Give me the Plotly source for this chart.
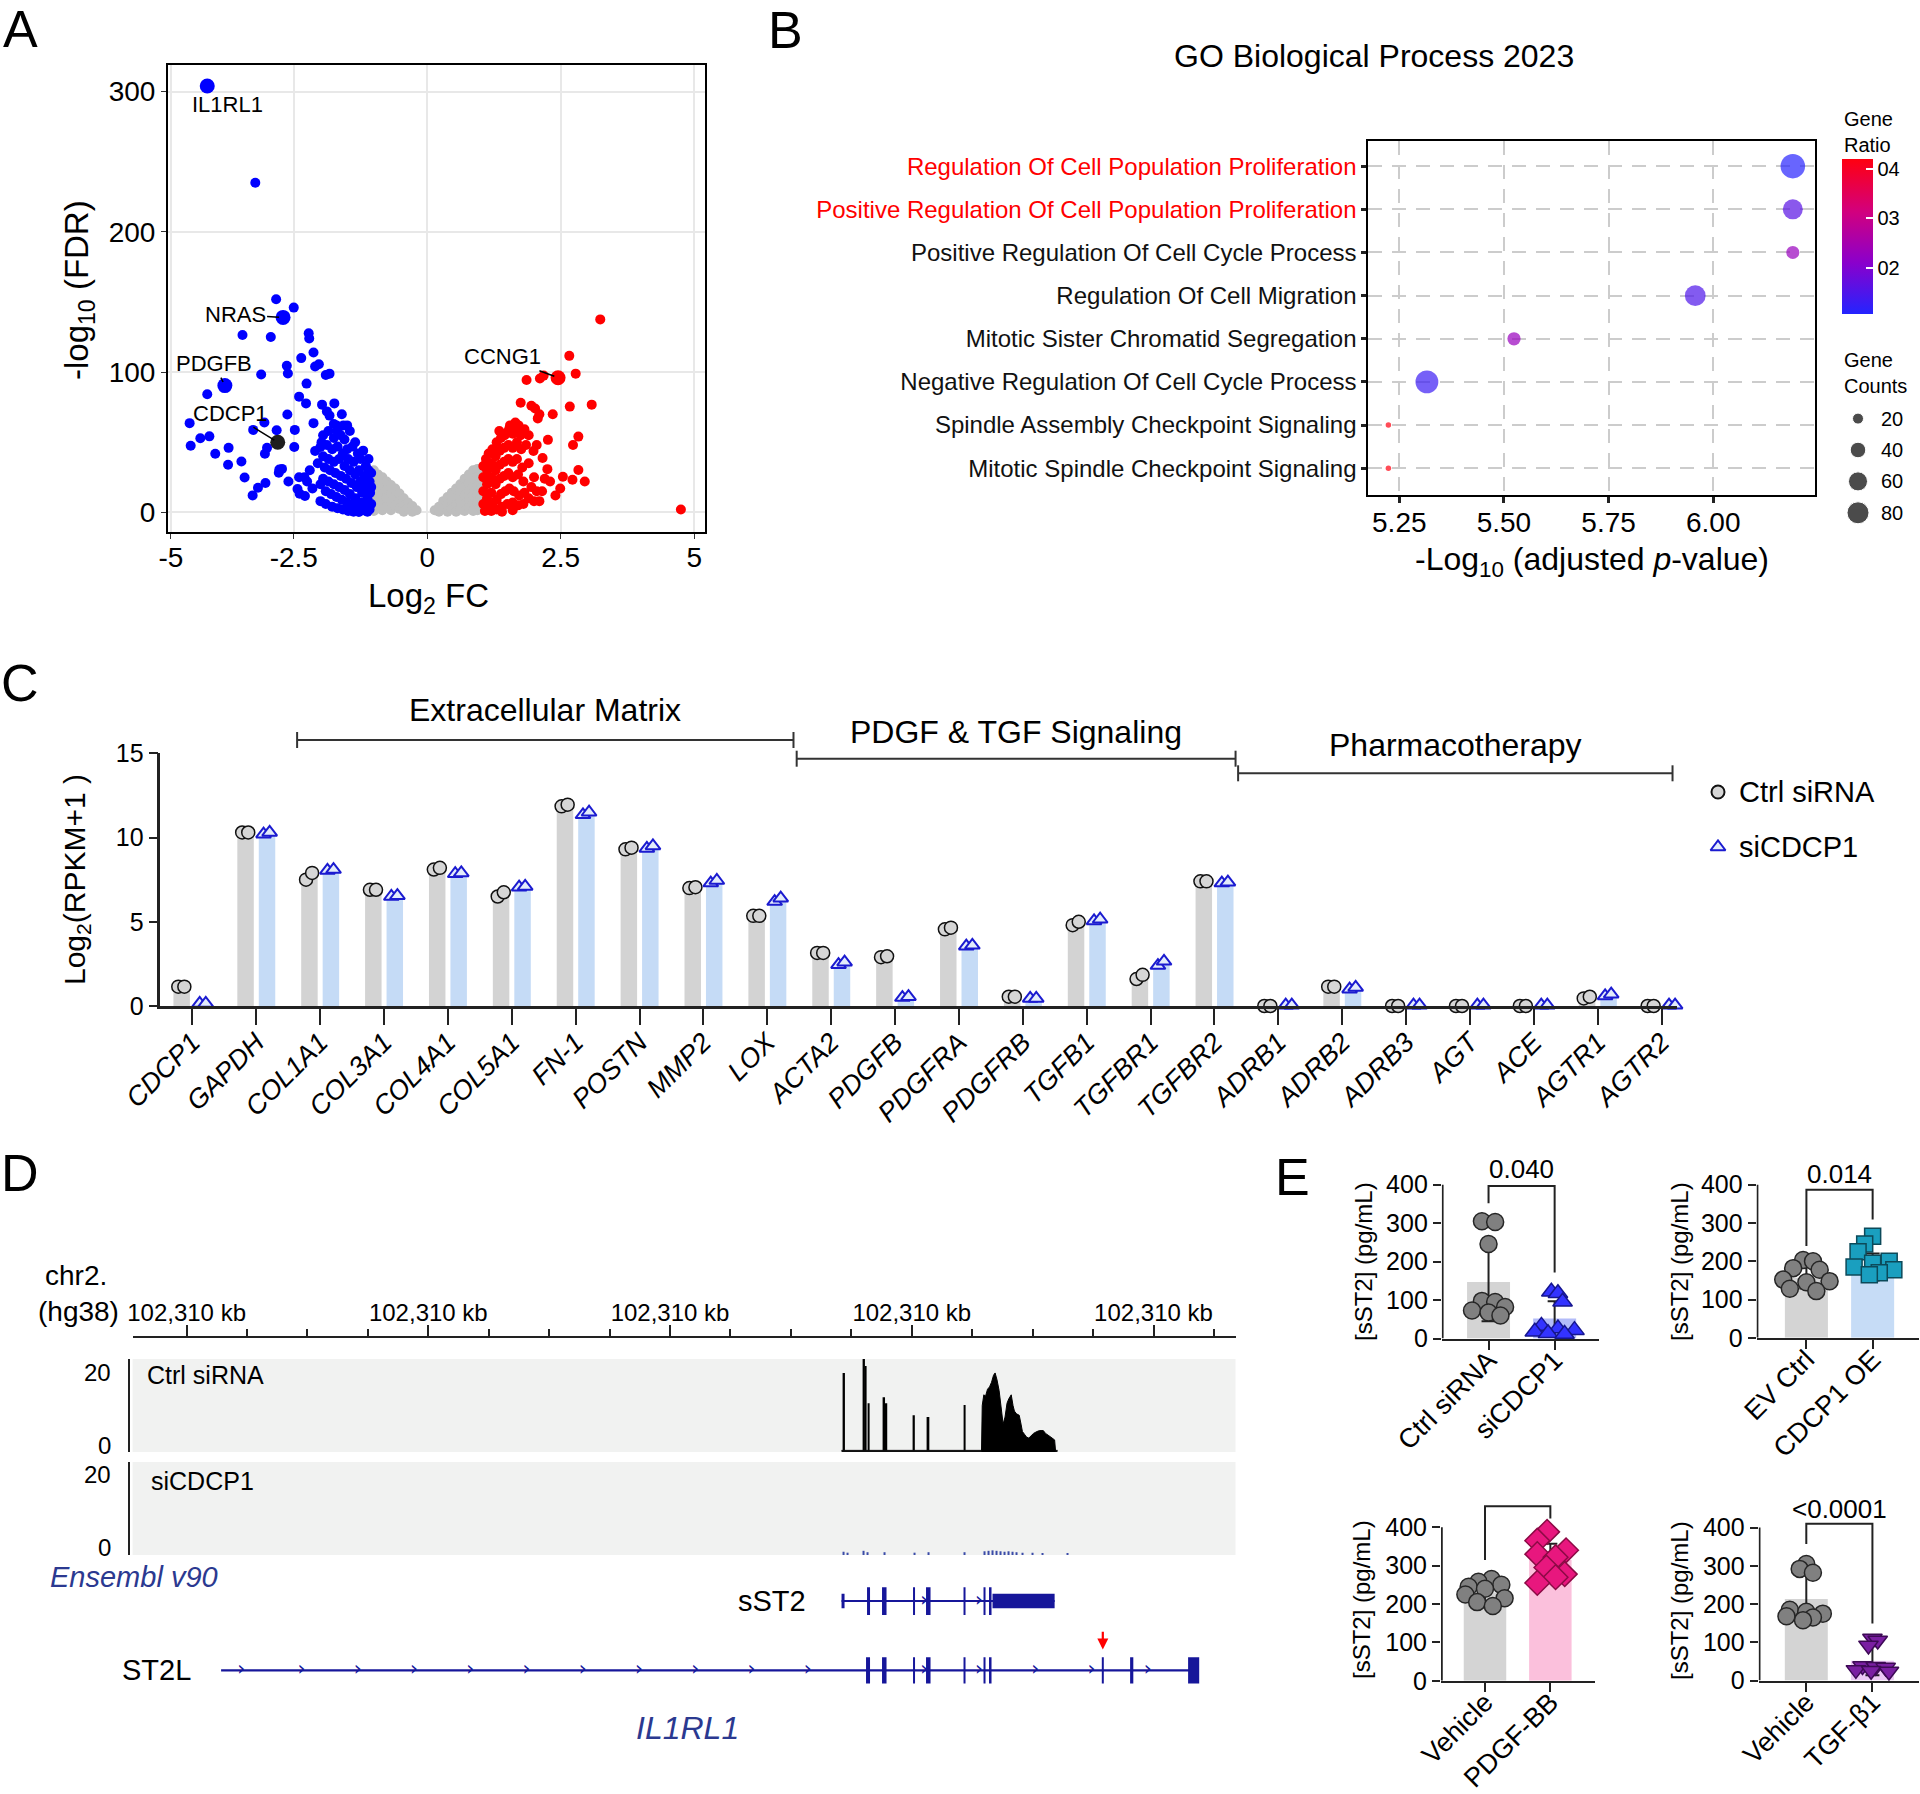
import numpy as np
import plotly.graph_objects as go

W, H = 1920, 1794
FONT = "Liberation Sans, Arial, Helvetica, sans-serif"

# ================= DATA =================
# ---- Panel A: volcano (log2 FC, -log10 FDR) ----
vol_gray = [
    (-1.00, 30), (-1.00, 24), (-1.00, 18), (-1.00, 12), (-1.00, 6), (-1.00, 1),
    (-0.92, 27), (-0.92, 21), (-0.92, 15), (-0.92, 9), (-0.92, 3),
    (-0.84, 25), (-0.84, 19), (-0.84, 13), (-0.84, 7), (-0.84, 1.5),
    (-0.76, 22), (-0.76, 16), (-0.76, 10), (-0.76, 4),
    (-0.68, 19.5), (-0.68, 13.5), (-0.68, 7.5), (-0.68, 1.5),
    (-0.60, 17), (-0.60, 11), (-0.60, 5),
    (-0.52, 13.5), (-0.52, 8), (-0.52, 2.5),
    (-0.44, 10), (-0.44, 5), (-0.44, 0.5),
    (-0.36, 7), (-0.36, 2.5), (-0.28, 4.5), (-0.28, 0.5), (-0.20, 1.5),
    (0.14, 1.5), (0.22, 4), (0.22, 0.5), (0.30, 8), (0.30, 2.5),
    (0.38, 11), (0.38, 5.5), (0.38, 0.5),
    (0.46, 14), (0.46, 8), (0.46, 2.5),
    (0.54, 17), (0.54, 11), (0.54, 5), (0.54, 0.5),
    (0.62, 20), (0.62, 14), (0.62, 8), (0.62, 2),
    (0.70, 24), (0.70, 18), (0.70, 12), (0.70, 6), (0.70, 1),
    (0.78, 27), (0.78, 21), (0.78, 15), (0.78, 9), (0.78, 3),
    (0.86, 30), (0.86, 24), (0.86, 18), (0.86, 12), (0.86, 6), (0.86, 1),
    (0.94, 31), (0.94, 25), (0.94, 19), (0.94, 13), (0.94, 7), (0.94, 1.5),
    (1.00, 31), (1.00, 24), (1.00, 17), (1.00, 10), (1.00, 3),
]
vol_blue = [
    (-3.22, 235), (-2.83, 152), (-2.50, 146), (-3.46, 126.5), (-2.93, 125),
    (-2.22, 127.7), (-2.21, 124), (-2.13, 114), (-2.36, 110), (-2.63, 104.5),
    (-2.03, 105.6), (-2.10, 104), (-2.61, 99), (-3.11, 98.3), (-1.83, 98.9),
    (-1.90, 98), (-2.26, 91.8), (-4.12, 84.2), (-2.40, 82.5), (-2.27, 77.7),
    (-1.97, 76.8), (-1.74, 77.7), (-1.88, 72), (-2.62, 69.8), (-1.83, 69),
    (-3.05, 64.1), (-4.45, 63.6), (-2.13, 63.6), (-1.75, 63), (-1.57, 62),
    (-1.68, 58), (-3.26, 58.8), (-2.82, 58.5), (-2.48, 58.8), (-4.25, 52.8),
    (-4.08, 54.2), (-4.43, 47.5), (-3.72, 46), (-3.00, 46), (-3.04, 41.8),
    (-2.49, 46.6), (-3.97, 41.8), (-3.73, 33.9), (-3.48, 36.2), (-3.42, 24.9),
    (-3.03, 20.9), (-3.17, 17.5), (-3.27, 12.1), (-2.77, 30.5), (-2.72, 31),
    (-2.78, 28.2), (-2.60, 22), (-2.40, 25), (-2.43, 16.7), (-2.39, 13.3),
    (-2.29, 11.6), (-2.10, 43.8), (-2.00, 46.6), (-2.05, 35), (-2.20, 30),
    (-2.25, 22), (-2.15, 17), (-2.30, 25), (-2.00, 20), (-1.60, 70), (-1.50, 62),
    (-1.95, 55), (-1.85, 58), (-1.75, 53), (-1.62, 55), (-1.50, 45), (-1.40, 47),
    (-1.30, 42), (-1.25, 38), (-1.15, 33), (-1.10, 30),
    (-1.98, 50), (-1.88, 48), (-1.78, 45), (-1.68, 47), (-1.58, 42), (-1.48, 38),
    (-1.38, 36), (-1.28, 30), (-1.18, 26), (-1.08, 22),
    (-1.95, 40), (-1.85, 38), (-1.75, 36), (-1.65, 38), (-1.55, 33), (-1.45, 30),
    (-1.35, 27), (-1.25, 22), (-1.15, 18), (-1.07, 14),
    (-1.92, 32), (-1.82, 30), (-1.72, 28), (-1.62, 26), (-1.52, 24), (-1.42, 21),
    (-1.32, 18), (-1.22, 14), (-1.12, 10), (-1.05, 6),
    (-1.95, 24), (-1.85, 22), (-1.75, 20), (-1.65, 18), (-1.55, 16), (-1.45, 13),
    (-1.35, 10), (-1.25, 7), (-1.15, 4), (-1.08, 2),
    (-1.90, 15), (-1.80, 13), (-1.70, 11), (-1.60, 9), (-1.50, 7), (-1.40, 5),
    (-1.30, 3), (-1.20, 1.5), (-1.12, 0.5),
    (-2.00, 8), (-1.90, 6), (-1.78, 4), (-1.68, 3), (-1.58, 2), (-1.48, 1),
    (-1.38, 0.5), (-1.28, 0.3),
    (-1.70, 62), (-1.55, 52), (-1.45, 58), (-1.35, 50), (-1.20, 44), (-1.10, 38),
    (-1.05, 28), (-1.05, 18),
]
vol_red = [
    (3.24, 137.6), (2.66, 111.6), (2.78, 98.9), (1.86, 94.4), (2.11, 95.5),
    (2.18, 97.5), (3.08, 76.8), (2.67, 75.4), (1.75, 78.2), (1.95, 76), (2.02, 74),
    (2.10, 70), (2.07, 67), (2.35, 70), (1.71, 62), (1.54, 59.9), (1.82, 59.3),
    (2.26, 51.7), (2.83, 54), (2.73, 48), (1.99, 43.8), (2.16, 38.7), (2.83, 30.2),
    (2.25, 30.8), (2.72, 23.2), (2.95, 22), (2.54, 25.4), (2.49, 17), (2.30, 22),
    (2.20, 24), (2.15, 15), (2.40, 12), (2.00, 8), (4.75, 2), (1.90, 55), (2.05, 48),
    (1.05, 33), (1.10, 38), (1.15, 42), (1.22, 45), (1.30, 50), (1.38, 53),
    (1.45, 55), (1.52, 58), (1.60, 56), (1.70, 60),
    (1.05, 25), (1.12, 30), (1.20, 35), (1.28, 40), (1.36, 44), (1.44, 46),
    (1.52, 48), (1.60, 46), (1.68, 50), (1.76, 45),
    (1.05, 15), (1.12, 20), (1.20, 25), (1.28, 30), (1.36, 34), (1.44, 36),
    (1.52, 38), (1.60, 36), (1.68, 38), (1.78, 32),
    (1.05, 6), (1.12, 10), (1.20, 14), (1.28, 20), (1.36, 24), (1.44, 26),
    (1.52, 28), (1.60, 25), (1.70, 27), (1.80, 22),
    (1.08, 1), (1.15, 3), (1.22, 6), (1.30, 9), (1.38, 13), (1.46, 15),
    (1.54, 17), (1.62, 15), (1.72, 12), (1.82, 14),
    (1.20, 1), (1.30, 2), (1.40, 4), (1.50, 6), (1.60, 7), (1.70, 5), (1.80, 6),
    (1.90, 10), (1.95, 18), (2.00, 25),
    (1.35, 58), (1.55, 62), (1.65, 64), (1.75, 55), (1.85, 48), (1.90, 35),
    (2.05, 15), (2.10, 8), (1.40, 0.5), (1.60, 1.5),
]
lab_genes = ["IL1RL1", "NRAS", "PDGFB", "CDCP1", "CCNG1"]
lab_fc = [-4.12, -2.70, -3.79, -2.80, 2.45]
lab_fdr = [304, 139, 90.4, 50, 96]
lab_color = ["#0000ff", "#0000ff", "#0000ff", "#1e1e1e", "#ff0000"]

# ---- Panel B: GO enrichment ----
go_terms = [
    "Regulation Of Cell Population Proliferation",
    "Positive Regulation Of Cell Population Proliferation",
    "Positive Regulation Of Cell Cycle Process",
    "Regulation Of Cell Migration",
    "Mitotic Sister Chromatid Segregation",
    "Negative Regulation Of Cell Cycle Process",
    "Spindle Assembly Checkpoint Signaling",
    "Mitotic Spindle Checkpoint Signaling",
]
go_neglogp = [6.19, 6.19, 6.19, 5.957, 5.524, 5.316, 5.224, 5.224]
go_count = [99, 66, 28, 71, 29, 86, 5, 5]
go_ratio = [0.011, 0.016, 0.023, 0.015, 0.023, 0.013, 0.042, 0.042]
go_highlight = [True, True, False, False, False, False, False, False]
legend_counts = [20, 40, 60, 80]

# ---- Panel C: log2(RPKM+1) ----
c_genes = ["CDCP1", "GAPDH", "COL1A1", "COL3A1", "COL4A1", "COL5A1", "FN-1",
           "POSTN", "MMP2", "LOX", "ACTA2", "PDGFB", "PDGFRA", "PDGFRB", "TGFB1",
           "TGFBR1", "TGFBR2", "ADRB1", "ADRB2", "ADRB3", "AGT", "ACE", "AGTR1", "AGTR2"]
ctrl_rep1 = [1.15, 10.3, 7.5, 6.9, 8.1, 6.5, 11.85, 9.3, 7.0, 5.35, 3.15, 2.9, 4.55,
             0.55, 4.8, 1.6, 7.4, 0.0, 1.15, 0.0, 0.0, 0.0, 0.45, 0.0]
ctrl_rep2 = [1.15, 10.3, 7.9, 6.9, 8.2, 6.75, 11.95, 9.4, 7.05, 5.35, 3.15, 2.95, 4.65,
             0.55, 5.0, 1.85, 7.4, 0.0, 1.15, 0.0, 0.0, 0.0, 0.55, 0.0]
si_rep1 = [0.15, 10.2, 8.05, 6.5, 7.85, 7.05, 11.35, 9.35, 7.3, 6.2, 2.45, 0.5, 3.55,
           0.45, 5.05, 2.4, 7.3, 0.05, 1.0, 0.05, 0.05, 0.05, 0.6, 0.05]
si_rep2 = [0.15, 10.3, 8.1, 6.55, 7.9, 7.1, 11.5, 9.5, 7.45, 6.4, 2.6, 0.55, 3.6,
           0.45, 5.15, 2.65, 7.35, 0.05, 1.1, 0.05, 0.05, 0.05, 0.7, 0.05]
c_groups = ["Extracellular Matrix", "PDGF &amp; TGF Signaling", "Pharmacotherapy"]
c_group_span = [(1.64, 9.41), (9.46, 16.33), (16.37, 23.17)]
c_series = ["Ctrl siRNA", "siCDCP1"]

# ---- Panel D: coverage track & gene models (relative position) ----
cov_spike_pos = [711.5, 731.5, 733.0, 736.0, 751.6, 753.8, 781.4, 795.9, 832.0]
cov_spike_h = [17.0, 20.0, 18.5, 10.5, 11.8, 10.5, 7.9, 7.5, 10.1]
cov_hill_pos = [849.0, 849.7, 851.3, 853.0, 855.0, 857.0, 859.0, 861.0, 862.6, 864.5,
                866.6, 868.5, 870.6, 872.5, 874.5, 876.2, 878.7, 880.5, 881.9, 884.0,
                886.7, 888.5, 889.9, 892.0, 894.0, 896.3, 898.5, 901.0, 904.4, 907.0,
                910.8, 913.0, 916.4, 919.0, 922.1, 923.0]
cov_hill_h = [0.3, 10, 12.3, 12, 13.5, 14, 15, 16.5, 17, 15.5, 13.2, 9, 6, 7.5, 10.5,
              11.4, 12.3, 10, 8.8, 8.2, 7.9, 6, 4.4, 3.8, 3.2, 3, 3.5, 4, 4.4, 4.6,
              4.6, 4, 3.5, 3, 2.6, 0.3]
cov_base_pos = [709, 925]
cov_base_h = [0.35, 0.35]
si_cov_pos = [711, 715, 731, 735, 752, 782, 796, 832, 852, 856, 860, 864, 868, 872,
              876, 880, 884, 890, 900, 910, 935]
si_cov_h = [0.7, 0.5, 0.9, 0.6, 0.6, 0.5, 0.6, 0.6, 0.8, 0.9, 1.0, 0.9, 0.8, 0.7,
            0.8, 0.7, 0.6, 0.5, 0.5, 0.4, 0.4]
track_scale = [0, 20]
ruler_major = [54, 295.75, 537.5, 779.25, 1021]
ruler_label = "102,310 kb"
sst2_span = (709, 922.1)
sst2_exons = [(734.5, 737.5), (749.5, 754), (780.5, 782.5), (793.5, 798), (831, 833),
              (851, 853), (856.5, 859)]
sst2_utr = [(709, 712), (860, 922.1)]
sst2_chev = [791.8, 846.5]
st2l_span = (88.5, 1065.1)
st2l_exons = [(733.5, 737.5), (749.5, 754), (780.5, 782.5), (793.5, 798), (831, 833),
              (851, 853), (856.5, 859), (969.3, 971.3), (997.6, 1000.8), (1055.6, 1066.7)]
st2l_chev = [108.6, 168.9, 225.1, 281.4, 337.7, 393.9, 450.2, 506.5, 562.7, 619.0,
             675.3, 791.8, 846.5, 902.8, 959.1, 1015.3]
red_arrow_pos = 970.3

# ---- Panel E: sST2 ELISA (pg/mL) ----
e_labels = [["Ctrl siRNA", "siCDCP1"], ["EV Ctrl", "CDCP1 OE"],
            ["Vehicle", "PDGF-BB"], ["Vehicle", "TGF-β1"]]
e_ctrl = [[305, 303, 246, 98, 95, 82, 73, 68, 60],
          [203, 200, 182, 178, 152, 148, 145, 128, 122],
          [265, 258, 250, 245, 240, 225, 215, 205, 195],
          [305, 292, 282, 185, 180, 175, 168, 165, 158]]
e_ctrl_jit = [[-0.1, 0.1, 0.0, -0.1, 0.1, 0.25, -0.25, 0.0, 0.18],
              [-0.05, 0.1, -0.2, 0.2, -0.35, 0.35, 0.0, -0.25, 0.15],
              [0.1, -0.1, 0.25, -0.25, 0.0, -0.3, 0.3, -0.12, 0.12],
              [0.0, -0.1, 0.1, -0.25, 0.0, 0.25, -0.3, 0.1, -0.05]]
e_trt = [[122, 118, 96, 33, 26, 22, 18, 14, 12],
         [265, 245, 225, 200, 195, 185, 178, 170, 165],
         [388, 365, 340, 330, 322, 295, 278, 270, 255],
         [110, 105, 92, 38, 36, 34, 28, 26, 24]]
e_trt_jit = [[-0.05, 0.05, 0.12, -0.2, 0.05, 0.3, -0.3, -0.1, 0.15],
             [0.0, -0.12, -0.22, 0.25, 0.0, -0.28, 0.32, 0.1, -0.05],
             [-0.05, -0.2, 0.24, -0.2, 0.08, -0.06, 0.22, 0.08, -0.2],
             [0.0, 0.08, -0.06, -0.15, 0.05, 0.2, -0.25, -0.02, 0.25]]
e_bar = [[147, 52], [157, 185], [230, 315], [213, 52]]
e_sd = [[102, 45], [28, 35], [25, 42], [62, 38]]
e_bracket = [(352, 397, 172), (240, 387, 309), (315, 455, 423), (357, 410, 149)]
e_pval = ["0.040", "0.014", "&lt;0.0001", "&lt;0.0001"]
e_pval_y = [442, 427, 498, 448]

# ================= HELPERS =================
def dx(a, b):
    return [a / W, b / W]

def dy(top, bottom):
    return [1 - bottom / H, 1 - top / H]

def px(x):
    return x / W

def py(y):
    return 1 - y / H

anns, shapes = [], []

def ann(text, x, y, size, color="black", **kw):
    d = dict(text=text, x=px(x), y=py(y), xref="paper", yref="paper", showarrow=False,
             xanchor="center", yanchor="middle",
             font=dict(size=size, color=color, family=FONT))
    d.update(kw)
    anns.append(d)

fig = go.Figure()
L = dict(width=W, height=H, margin=dict(l=0, r=0, t=0, b=0, autoexpand=False),
         paper_bgcolor="white", plot_bgcolor="white", showlegend=False, barmode="overlay",
         font=dict(family=FONT, color="black"))

# ================= PANEL A =================
for pts, col in [(vol_gray, "#bebebe"), (vol_blue, "#0000ff"), (vol_red, "#ff0000")]:
    xs, ys = zip(*pts)
    fig.add_trace(go.Scatter(x=xs, y=ys, mode="markers", xaxis="x", yaxis="y",
                             marker=dict(size=10, color=col), hoverinfo="skip"))
fig.add_trace(go.Scatter(x=lab_fc, y=lab_fdr, mode="markers", xaxis="x", yaxis="y",
                         marker=dict(size=15, color=lab_color), hoverinfo="skip"))
lab_off = {"NRAS": (-48, -3), "PDGFB": (-11, -22), "CDCP1": (-47, -29), "CCNG1": (-56, -21)}
for g, x, y in zip(lab_genes, lab_fc, lab_fdr):
    if g == "IL1RL1":
        anns.append(dict(text=g, x=x + 0.38, y=y - 13, xref="x", yref="y", showarrow=False,
                         xanchor="center", yanchor="middle",
                         font=dict(size=22, color="black", family=FONT)))
    else:
        ax_, ay_ = lab_off[g]
        anns.append(dict(text=g, x=x, y=y, xref="x", yref="y", showarrow=True, arrowhead=0,
                         arrowwidth=1.5, arrowcolor="black", ax=ax_, ay=ay_, standoff=4,
                         font=dict(size=22, color="black", family=FONT)))
L["xaxis"] = dict(domain=dx(168, 704.8), range=[-4.855, 5.198], anchor="y",
                  tickvals=[-4.8, -2.5, 0, 2.5, 5], ticktext=["-5", "-2.5", "0", "2.5", "5"],
                  showgrid=True, gridcolor="#e8e8e8", gridwidth=1.5, zeroline=False,
                  showline=True, mirror=True, linecolor="black", linewidth=2,
                  ticks="outside", ticklen=5, tickcolor="#333", tickfont=dict(size=28),
                  ticklabelstandoff=-5)
L["yaxis"] = dict(domain=dy(65, 531.7), range=[-13.8, 319.0], anchor="x",
                  tickvals=[0, 100, 200, 300], showgrid=True, gridcolor="#e8e8e8", gridwidth=1.5,
                  zeroline=False, showline=True, mirror=True, linecolor="black", linewidth=2,
                  ticks="outside", ticklen=5, tickcolor="#333", tickfont=dict(size=28))
ann("Log<sub>2</sub> FC", 428, 598, 33)
ann("-log<sub>10</sub> (FDR)", 79, 290, 33, textangle=-90)
ann("A", 20, 29, 52)

# ================= PANEL B =================
sizes_b = [2.46 * np.sqrt(c) for c in go_count]
fig.add_trace(go.Scatter(
    x=go_neglogp, y=list(range(len(go_terms))), mode="markers", xaxis="x2", yaxis="y2",
    marker=dict(size=sizes_b, color=go_ratio, cmin=0.0106, cmax=0.042,
                colorscale=[[0, "#2424ff"], [0.33, "#8a00cc"], [0.66, "#d2007e"], [1, "#ff0010"]],
                showscale=True, line=dict(width=0),
                colorbar=dict(x=px(1842), xanchor="left", y=py(159), yanchor="top",
                              len=(313.6 - 159) / H, lenmode="fraction", thickness=31,
                              thicknessmode="pixels", outlinewidth=0, xpad=0, ypad=0,
                              tickvals=[0.02, 0.03, 0.04], ticktext=["02", "03", "04"],
                              ticks="inside", ticklen=7, tickwidth=2, tickcolor="white",
                              tickfont=dict(size=20, family=FONT))),
    hoverinfo="skip"))
b_ticktext = [f'<span style="color:{"#ff0000" if h else "#111111"}">{t}</span>'
              for t, h in zip(go_terms, go_highlight)]
L["xaxis2"] = dict(domain=dx(1368.3, 1815), range=[5.176, 6.243], anchor="y2",
                   tickvals=[5.25, 5.5, 5.75, 6.0], ticktext=["5.25", "5.50", "5.75", "6.00"],
                   showgrid=True, gridcolor="#cccccc", gridwidth=1.5, griddash="14px,10px",
                   zeroline=False, showline=True, mirror=True, linecolor="black", linewidth=2,
                   ticks="outside", ticklen=6, tickwidth=3, tickcolor="#222",
                   tickfont=dict(size=28), ticklabelstandoff=-5)
L["yaxis2"] = dict(domain=dy(140.7, 495), range=[7.62, -0.59], anchor="x2",
                   tickvals=list(range(len(go_terms))), ticktext=b_ticktext,
                   showgrid=True, gridcolor="#cccccc", gridwidth=1.5, griddash="14px,10px",
                   zeroline=False, showline=True, mirror=True, linecolor="black", linewidth=2,
                   ticks="outside", ticklen=5, tickwidth=3, tickcolor="#222",
                   tickfont=dict(size=24))
ann("GO Biological Process 2023", 1374, 56, 32)
ann("-Log<sub>10</sub> (adjusted <i>p</i>-value)", 1592, 561, 32)
ann("Gene<br>Ratio", 1842, 132, 20, xanchor="left", align="left")
ann("Gene<br>Counts", 1842, 373, 20, xanchor="left", align="left")
ann("B", 785, 30, 52)
# size legend
fig.add_trace(go.Scatter(x=[0] * len(legend_counts), y=legend_counts, mode="markers",
                         xaxis="x12", yaxis="y12", hoverinfo="skip",
                         marker=dict(size=[2.46 * np.sqrt(c) for c in legend_counts],
                                     color="black")))
L["xaxis12"] = dict(domain=dx(1840, 1876), range=[-1, 1], anchor="y12", visible=False)
L["yaxis12"] = dict(domain=dy(402.9, 528.5), range=[90, 10], anchor="x12", side="right",
                    tickvals=legend_counts, showgrid=False, zeroline=False, showline=False,
                    ticks="", ticklabelstandoff=4, tickfont=dict(size=20))

# ================= PANEL C =================
idx = np.arange(len(c_genes))
ctrl_mean = (np.array(ctrl_rep1) + np.array(ctrl_rep2)) / 2
si_mean = (np.array(si_rep1) + np.array(si_rep2)) / 2
fig.add_trace(go.Bar(x=idx - 0.167, y=ctrl_mean, width=0.258, xaxis="x3", yaxis="y3",
                     marker=dict(color="#d3d3d3", line=dict(width=0)), hoverinfo="skip"))
fig.add_trace(go.Bar(x=idx + 0.169, y=si_mean, width=0.258, xaxis="x3", yaxis="y3",
                     marker=dict(color="#c5dbf6", line=dict(width=0)), hoverinfo="skip"))
circ = dict(symbol="circle", size=13, color="#d6d6d6", line=dict(color="#111", width=1.5))
tri = dict(symbol="triangle-up", size=13, color="#e3ecfb", line=dict(color="#1b1bd0", width=2))
for off, vals, mk in [(-0.22, ctrl_rep1, circ), (-0.125, ctrl_rep2, circ),
                      (0.115, si_rep1, tri), (0.21, si_rep2, tri)]:
    fig.add_trace(go.Scatter(x=idx + off, y=vals, mode="markers", xaxis="x3", yaxis="y3",
                             marker=mk, cliponaxis=False, hoverinfo="skip"))
L["xaxis3"] = dict(domain=dx(160.4, 1677), range=[-0.5, 23.24], anchor="y3",
                   tickvals=list(idx), ticktext=c_genes, tickangle=-45,
                   tickfont=dict(size=27, style="italic"), showgrid=False, zeroline=False,
                   showline=True, linecolor="#222", linewidth=2.5, ticks="outside",
                   ticklen=16, tickwidth=1.5, tickcolor="#222", ticklabelstandoff=-9)
L["yaxis3"] = dict(domain=dy(753.3, 1006), range=[0, 15], anchor="x3",
                   tickvals=[0, 5, 10, 15], showgrid=False, zeroline=False, showline=True,
                   linecolor="#222", linewidth=2.5, ticks="outside", ticklen=9, tickwidth=2,
                   tickcolor="#222", tickfont=dict(size=25))
ann("Log<sub>2</sub>(RPKM+1 )", 76, 880, 30, textangle=-90)
grp_ytext = [710, 732, 745]
grp_ybar = [740, 758.7, 773.3]
for name, (a, b), yt, yb in zip(c_groups, c_group_span, grp_ytext, grp_ybar):
    shapes.append(dict(type="line", xref="x3", yref="paper", x0=a, x1=b, y0=py(yb), y1=py(yb),
                       line=dict(color="#333", width=2)))
    for e in (a, b):
        shapes.append(dict(type="line", xref="x3", yref="paper", x0=e, x1=e,
                           y0=py(yb - 8), y1=py(yb + 8), line=dict(color="#333", width=2)))
    ann(name, 192.2 + (a + b) / 2 * 63.9, yt, 32)
# C legend
fig.add_trace(go.Scatter(x=[0, 0], y=[0, 1], mode="markers", xaxis="x13", yaxis="y13",
                         hoverinfo="skip",
                         marker=dict(symbol=["circle", "triangle-up"], size=13,
                                     color=["#d6d6d6", "#e3ecfb"],
                                     line=dict(color=["#111", "#1b1bd0"], width=2))))
L["xaxis13"] = dict(domain=dx(1708, 1728), range=[-1, 1], anchor="y13", visible=False)
L["yaxis13"] = dict(domain=dy(764.5, 874.5), range=[1.5, -0.5], anchor="x13", side="right",
                    tickvals=[0, 1], ticktext=c_series, showgrid=False, zeroline=False,
                    showline=False, ticks="", ticklabelstandoff=10, tickfont=dict(size=29))
ann("C", 20, 683, 52)

# ================= PANEL D =================
DX = dx(132.6, 1235.5)
DR = [0, 1103]
fig.add_trace(go.Scatter(x=[0, 1], y=[0, 0], mode="markers", xaxis="x4", yaxis="y4",
                         marker=dict(opacity=0), hoverinfo="skip"))
L["xaxis4"] = dict(domain=DX, range=DR, anchor="y4", side="top", showgrid=False,
                   zeroline=False, showline=True, linecolor="#222", linewidth=2,
                   tickmode="array", tickvals=ruler_major,
                   ticktext=[ruler_label] * len(ruler_major), ticks="outside", ticklen=11,
                   tickwidth=1.5, tickcolor="#222", tickfont=dict(size=24),
                   ticklabelstandoff=-6,
                   minor=dict(tickmode="linear", tick0=ruler_major[0],
                              dtick=(ruler_major[1] - ruler_major[0]) / 4,
                              ticks="outside", ticklen=7, tickwidth=1.5, tickcolor="#222"))
L["yaxis4"] = dict(domain=dy(1337.8, 1341), range=[0, 1], anchor="x4", visible=False)

# track 1
fig.add_trace(go.Scatter(x=cov_base_pos, y=cov_base_h, mode="lines", fill="tozeroy",
                         line=dict(color="#111", width=1), fillcolor="#111",
                         xaxis="x5", yaxis="y5", hoverinfo="skip"))
fig.add_trace(go.Bar(x=cov_spike_pos, y=cov_spike_h, width=1.8, xaxis="x5", yaxis="y5",
                     marker=dict(color="#000", line=dict(width=0)), hoverinfo="skip"))
fig.add_trace(go.Scatter(x=cov_hill_pos, y=cov_hill_h, mode="lines", fill="tozeroy",
                         line=dict(color="#000", width=1), fillcolor="#000",
                         xaxis="x5", yaxis="y5", hoverinfo="skip"))
# track 2
fig.add_trace(go.Bar(x=si_cov_pos, y=si_cov_h, width=2.0, xaxis="x6", yaxis="y6",
                     marker=dict(color="#3b4ca8", line=dict(width=0)), hoverinfo="skip"))
track_lab_y = [(1372, 1445), (1474, 1547)]
for n, (top, bot), (ly_top, ly_bot) in zip([5, 6], [(1359, 1452), (1462, 1555)], track_lab_y):
    L[f"xaxis{n}"] = dict(domain=DX, range=DR, anchor=f"y{n}", visible=False)
    L[f"yaxis{n}"] = dict(domain=dy(top, bot), range=track_scale, anchor="free",
                          position=px(128.6), tickvals=track_scale, ticks="inside", ticklen=6,
                          tickwidth=1.5, tickcolor="#222", showline=True, linecolor="#222",
                          linewidth=1.5, showgrid=False, zeroline=False,
                          showticklabels=False)
    shapes.append(dict(type="rect", xref=f"x{n} domain", yref=f"y{n} domain", x0=0, x1=1,
                       y0=0, y1=1, fillcolor="#f1f2f1", line=dict(width=0), layer="below"))
    ann(str(track_scale[1]), 113, ly_top, 24, xanchor="right")
    ann(str(track_scale[0]), 113, ly_bot, 24, xanchor="right")
ann("Ctrl siRNA", 144.7, 1375, 25, xanchor="left")
ann("siCDCP1", 148.7, 1481, 25, xanchor="left")

# gene models
GB = "#16169a"
for span, row in [(sst2_span, 1), (st2l_span, 0)]:
    fig.add_trace(go.Scatter(x=list(span), y=[row, row], mode="lines", xaxis="x7",
                             yaxis="y7", line=dict(color=GB, width=2.2), hoverinfo="skip"))
for chev, row in [(sst2_chev, 1), (st2l_chev, 0)]:
    fig.add_trace(go.Scatter(x=chev, y=[row] * len(chev), mode="text", text=["›"] * len(chev),
                             textfont=dict(size=20, color=GB, family="DejaVu Sans"),
                             xaxis="x7", yaxis="y7", hoverinfo="skip"))
for (a, b) in sst2_exons:
    shapes.append(dict(type="rect", xref="x7", yref="y7", x0=a, x1=b, y0=0.8, y1=1.2,
                       fillcolor=GB, line=dict(width=0)))
for (a, b) in sst2_utr:
    shapes.append(dict(type="rect", xref="x7", yref="y7", x0=a, x1=b, y0=0.897, y1=1.103,
                       fillcolor=GB, line=dict(width=0)))
for (a, b) in st2l_exons:
    shapes.append(dict(type="rect", xref="x7", yref="y7", x0=a, x1=b, y0=-0.19, y1=0.19,
                       fillcolor=GB, line=dict(width=0)))
anns.append(dict(x=red_arrow_pos, y=0.30, ax=red_arrow_pos, ay=0.68, xref="x7", yref="y7",
                 axref="x7", ayref="y7", showarrow=True, arrowhead=2, arrowsize=1,
                 arrowwidth=2.2, arrowcolor="#ff0000", text=" "))
L["xaxis7"] = dict(domain=DX, range=DR, anchor="y7", visible=False)
L["yaxis7"] = dict(domain=dy(1560, 1710), range=[-0.571, 1.591], anchor="x7", visible=False)
ann("chr2.", 76, 1275, 28)
ann("(hg38)", 78, 1311, 28)
ann("<i>Ensembl v90</i>", 48, 1577, 29, color="#2b3990", xanchor="left")
ann("sST2", 808, 1601, 29, xanchor="right")
ann("ST2L", 193, 1670, 29, xanchor="right")
ann("<i>IL1RL1</i>", 687, 1728, 32, color="#2b3990")
ann("D", 20, 1173, 52)

# ================= PANEL E =================
e_cfg = [
    dict(xd=(1441.8, 1598.8), xr=[-0.707, 1.668], yd=(1157.8, 1338.6), title_xy=(1363, 1262),
         bars=["#d4d4d4", "#b3bcf9"],
         trt=dict(symbol="triangle-up", color="#3333ff", line=dict(color="#16168f", width=1.5), size=17)),
    dict(xd=(1756.6, 1918.6), xr=[-0.752, 1.694], yd=(1157.9, 1337.8), title_xy=(1679, 1262),
         bars=["#d4d4d4", "#c6dcf6"],
         trt=dict(symbol="square", color="#1a9fbf", line=dict(color="#0c4a5a", width=1.5), size=16)),
    dict(xd=(1441.0, 1594.6), xr=[-0.673, 1.677], yd=(1500.4, 1680.8), title_xy=(1361, 1600),
         bars=["#d4d4d4", "#fbc0dc"],
         trt=dict(symbol="diamond", color="#e8177e", line=dict(color="#8c0a45", width=1.5), size=19)),
    dict(xd=(1758.7, 1918.7), xr=[-0.72, 1.70], yd=(1500.8, 1680.6), title_xy=(1679, 1601),
         bars=["#d4d4d4", "#ecc9f5"],
         trt=dict(symbol="triangle-down", color="#7a1fa2", line=dict(color="#3d0a55", width=1.5), size=17)),
]
gray_pt = dict(symbol="circle", size=17, color="#808080", line=dict(color="#262626", width=1.5))
for k, cfg in enumerate(e_cfg):
    n = 8 + k
    xa, ya = f"x{n}", f"y{n}"
    fig.add_trace(go.Bar(x=[0, 1], y=e_bar[k], width=0.65, xaxis=xa, yaxis=ya,
                         marker=dict(color=cfg["bars"], line=dict(width=0)),
                         error_y=dict(type="data", array=e_sd[k], color="#222", thickness=2,
                                      width=7), hoverinfo="skip"))
    fig.add_trace(go.Scatter(x=np.array(e_ctrl_jit[k]) + 0, y=e_ctrl[k], mode="markers",
                             xaxis=xa, yaxis=ya, marker=gray_pt, cliponaxis=False,
                             hoverinfo="skip"))
    fig.add_trace(go.Scatter(x=np.array(e_trt_jit[k]) + 1, y=e_trt[k], mode="markers",
                             xaxis=xa, yaxis=ya, marker=cfg["trt"], cliponaxis=False,
                             hoverinfo="skip"))
    l0, top, r0 = e_bracket[k]
    fig.add_trace(go.Scatter(x=[0, 0, 1, 1], y=[l0, top, top, r0], mode="lines", xaxis=xa,
                             yaxis=ya, line=dict(color="#222", width=2), hoverinfo="skip"))
    anns.append(dict(text=e_pval[k], x=0.5, y=e_pval_y[k], xref=xa, yref=ya, showarrow=False,
                     xanchor="center", yanchor="middle",
                     font=dict(size=26, color="black", family=FONT)))
    shapes.append(dict(type="line", xref=xa, yref=ya, x0=cfg["xr"][0] + 0.012,
                       x1=cfg["xr"][0] + 0.012, y0=0, y1=400, line=dict(color="#222", width=2)))
    L[f"xaxis{n}"] = dict(domain=dx(*cfg["xd"]), range=cfg["xr"], anchor=ya,
                          tickvals=[0, 1], ticktext=e_labels[k], tickangle=-45,
                          tickfont=dict(size=27), showgrid=False, zeroline=False,
                          showline=True, linecolor="#222", linewidth=2, ticks="outside",
                          ticklen=9, tickwidth=2, tickcolor="#222", ticklabelstandoff=-16)
    L[f"yaxis{n}"] = dict(domain=dy(*cfg["yd"]), range=[0, 470], anchor=xa,
                          tickvals=[0, 100, 200, 300, 400], showgrid=False, zeroline=False,
                          showline=False, ticks="outside", ticklen=8, tickwidth=2,
                          tickcolor="#222", tickfont=dict(size=25))
    ann("[sST2] (pg/mL)", cfg["title_xy"][0], cfg["title_xy"][1], 24, textangle=-90)
ann("E", 1292, 1177, 52)

for key in list(L.keys()):
    if key.startswith("xaxis") or key.startswith("yaxis"):
        L[key]["automargin"] = False

L["annotations"] = anns
L["shapes"] = shapes
fig.update_layout(**L)
fig.write_html("out.html", config={"displayModeBar": False},
               post_script="document.body.style.margin='0px';")
